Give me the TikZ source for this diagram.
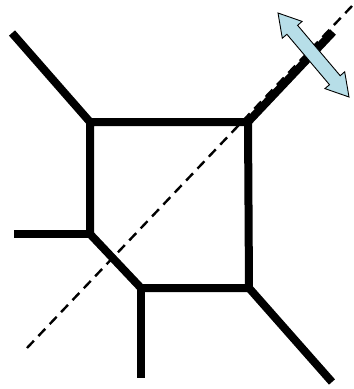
\documentclass[tikz,border=0pt]{standalone}
\begin{document}
\begin{tikzpicture}[x=1pt,y=-1pt,
  edge/.style={line width=8pt,line cap=butt,line join=miter},
  axisline/.style={line width=2.4pt,dash pattern=on 10pt off 6.5pt},
  arrowshape/.style={draw=black,line width=0.9pt,fill=arrowblue,line join=miter}]
\definecolor{arrowblue}{HTML}{B7DEE8}
\useasboundingbox (0,0) rectangle (354,389);
% corners
\coordinate (A) at (90,122);
\coordinate (B) at (248,122);
\coordinate (E) at (249,288);
\coordinate (D) at (141,288);
\coordinate (C) at (90,234);
% free ends
\coordinate (a) at (12,33);
\coordinate (b) at (333,32);
\coordinate (c) at (14,234);
\coordinate (d) at (141,378);
\coordinate (e) at (332,382);
\coordinate (p) at (27,348);
\coordinate (q) at (352,6);
% dashed axis
\draw[axisline] (p) -- (q);
% frame
\draw[edge] (A) -- (B) -- (E) -- (D) -- (C) -- cycle;
\draw[edge] (A) -- (a);
\draw[edge] (B) -- (b);
\draw[edge] (C) -- (c);
\draw[edge] (D) -- (d);
\draw[edge] (E) -- (e);
% double arrow
\draw[arrowshape] (278,13) -- (302.1,21.4) -- (297.6,25.3) -- (340.2,75.7)
  -- (344.7,71.8) -- (349,97) -- (324.9,88.6) -- (329.5,84.7)
  -- (286.9,34.3) -- (282.3,38.2) -- cycle;
\end{tikzpicture}
\end{document}
